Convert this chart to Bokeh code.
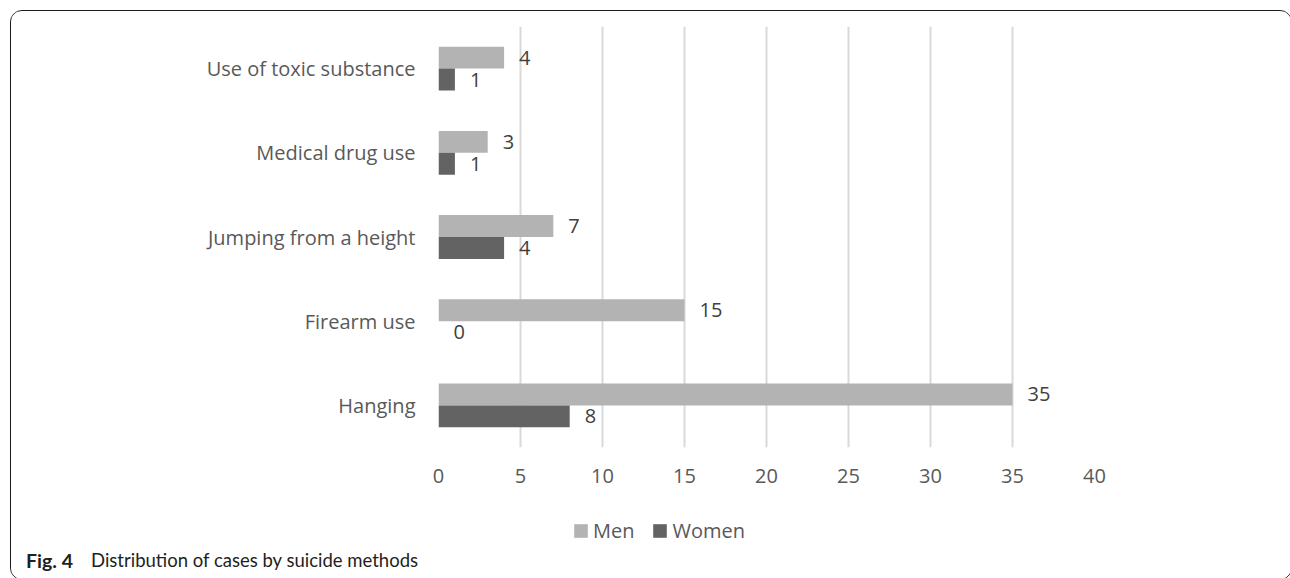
from bokeh.plotting import figure
from bokeh.models import (FactorRange, Range1d, FixedTicker, Legend, LegendItem,
                          ColumnDataSource, Label)
from bokeh.layouts import column
from bokeh.transform import dodge
from bokeh.core.properties import value
from bokeh.embed import file_html
from bokeh.resources import INLINE

# ---- data ----
methods = ["Hanging", "Firearm use", "Jumping from a height", "Medical drug use", "Use of toxic substance"]
men = [35, 15, 7, 3, 4]
women = [8, 0, 4, 1, 1]
x_ticks = [0, 5, 10, 15, 20, 25, 30, 35, 40]
series_names = ["Men", "Women"]
caption_bold = "Fig. 4"
caption_text = "Distribution of cases by suicide methods"

MEN_C = "#b3b3b3"
WOMEN_C = "#636363"
AXIS_TXT = "#595959"
LBL_TXT = "#404040"
FONT = "Open Sans"
FS = "20px"

W = 1280
H1 = 488
H2 = 80

src = ColumnDataSource(dict(cat=methods, men=men, women=women,
                            men_lbl=[str(v) for v in men],
                            women_lbl=[str(v) for v in women]))

p = figure(width=W, height=H1, output_backend="svg", toolbar_location=None,
           y_range=FactorRange(factors=methods, range_padding=0),
           x_range=Range1d(0, 40),
           min_border_left=427, min_border_right=W - 427 - 656,
           min_border_top=15, min_border_bottom=52)
p.frame_align = False
p.outline_line_color = None
p.border_fill_color = "white"

p.ygrid.grid_line_color = None
p.xgrid.grid_line_color = "#d9d9d9"
p.xgrid.grid_line_width = 2
p.xaxis.ticker = FixedTicker(ticks=x_ticks)

for ax in (p.xaxis[0], p.yaxis[0]):
    ax.axis_line_color = None
    ax.major_tick_line_color = None
    ax.minor_tick_line_color = None
    ax.major_tick_out = 0
    ax.major_tick_in = 0
    ax.major_label_text_font = FONT
    ax.major_label_text_font_size = FS
    ax.major_label_text_color = AXIS_TXT
p.xaxis.major_label_standoff = 21
p.yaxis.major_label_standoff = 23

BH = 0.26
OFF = 0.13
p.hbar(y=dodge("cat", OFF, range=p.y_range), left=0, right="men", height=BH,
       fill_color=MEN_C, line_color=None, source=src)
p.hbar(y=dodge("cat", -OFF, range=p.y_range), left=0, right="women", height=BH,
       fill_color=WOMEN_C, line_color=None, source=src)

p.text(x="men", y=dodge("cat", OFF, range=p.y_range), text="men_lbl", source=src,
       x_offset=15, text_align="left", text_baseline="middle",
       text_font=value(FONT), text_font_size=FS, text_color=LBL_TXT)
p.text(x="women", y=dodge("cat", -OFF, range=p.y_range), text="women_lbl", source=src,
       x_offset=15, text_align="left", text_baseline="middle",
       text_font=value(FONT), text_font_size=FS, text_color=LBL_TXT)

# ---- lower strip: legend + caption ----
q = figure(width=W, height=H2, output_backend="svg", toolbar_location=None,
           x_range=Range1d(0, W), y_range=Range1d(0, H2),
           min_border=0, x_axis_type=None, y_axis_type=None)
q.frame_align = False
q.outline_line_color = None
q.grid.grid_line_color = None
q.border_fill_color = "white"

# zero-size stand-in bars so the legend can show the two series swatches
stub = ColumnDataSource(dict(y=[0], right=[0]))
lm = q.hbar(y="y", right="right", left=0, height=0, fill_color=MEN_C, line_color=None, source=stub)
lw = q.hbar(y="y", right="right", left=0, height=0, fill_color=WOMEN_C, line_color=None, source=stub)

legend = Legend(items=[LegendItem(label=series_names[0], renderers=[lm]),
                       LegendItem(label=series_names[1], renderers=[lw])],
                orientation="horizontal", location=(561, 35),
                glyph_width=17, glyph_height=17, label_standoff=4, spacing=17,
                padding=0, margin=0, border_line_color=None, background_fill_alpha=0,
                label_text_font=FONT, label_text_font_size=FS, label_text_color=AXIS_TXT,
                label_height=20)
q.add_layout(legend, "center")

q.add_layout(Label(x=14.5, y=19.5, text=caption_bold,
                   text_font="Lato", text_font_style="bold", text_font_size="19.5px",
                   text_color="#231f20", text_baseline="alphabetic"))
q.add_layout(Label(x=79.5, y=19.5, text=caption_text,
                   text_font="Lato", text_font_size="18.5px",
                   text_color="#231f20", text_baseline="alphabetic"))

layout = column(p, q, spacing=0,
                styles={"margin-left": "10px", "margin-top": "10px",
                        "border": "1.5px solid #1a1a1a", "border-radius": "12px",
                        "overflow": "hidden", "background": "white"})

open("out.html", "w").write(file_html(layout, INLINE))
